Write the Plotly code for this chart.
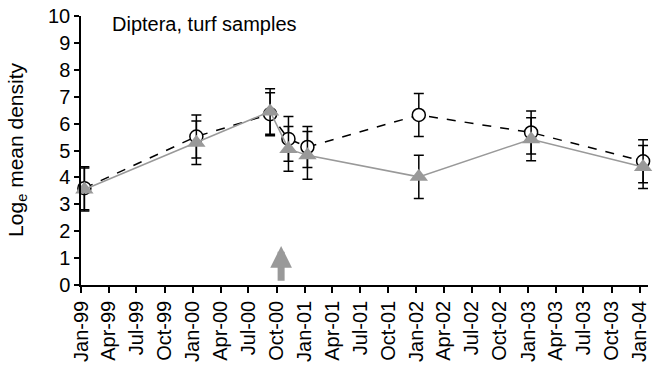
import plotly.graph_objects as go

dates = ["1999-01-12", "2000-01-13", "2000-09-10", "2000-11-09",
         "2001-01-10", "2002-01-09", "2003-01-11", "2004-01-12"]
open_vals = [3.60, 5.52, 6.35, 5.43, 5.13, 6.32, 5.67, 4.60]
open_err = [0.80, 0.80, 0.80, 0.83, 0.76, 0.80, 0.80, 0.80]
tri_vals = [3.55, 5.29, 6.45, 5.06, 4.82, 4.02, 5.42, 4.39]
tri_err = [0.80, 0.81, 0.85, 0.83, 0.89, 0.80, 0.80, 0.80]

arrow_date = "2000-10-16"
arrow_tip = 1.45
arrow_tail = 0.1

title_text = "Diptera, turf samples"
y_title = "Log<sub>e</sub> mean density"

FONT = "Liberation Sans, Arial, sans-serif"

fig = go.Figure()

fig.add_trace(go.Scatter(
    x=dates, y=open_vals, mode="lines+markers",
    line=dict(color="black", width=1.5, dash="dash"),
    marker=dict(symbol="circle", size=13, color="white",
                line=dict(color="black", width=1.5)),
    error_y=dict(type="data", array=open_err, visible=True,
                 color="black", thickness=1.5, width=5),
    cliponaxis=False, showlegend=False,
))

fig.add_trace(go.Scatter(
    x=dates, y=tri_vals, mode="lines+markers",
    line=dict(color="#999999", width=1.5),
    marker=dict(symbol="triangle-up", size=16, color="#999999",
                line=dict(width=0)),
    error_y=dict(type="data", array=tri_err, visible=True,
                 color="black", thickness=1.5, width=5),
    cliponaxis=False, showlegend=False,
))

fig.add_annotation(
    x=arrow_date, y=arrow_tip, ax=arrow_date, ay=arrow_tail,
    xref="x", yref="y", axref="x", ayref="y",
    showarrow=True, arrowhead=2, arrowwidth=7, arrowsize=0.62,
    arrowcolor="#999999", text="",
)

fig.add_annotation(
    x=0.051, y=0.972, xref="paper", yref="paper",
    xanchor="left", yanchor="middle", showarrow=False,
    text=title_text, font=dict(family=FONT, size=20, color="black"),
)

fig.add_annotation(
    x=-0.112, y=0.504, xref="paper", yref="paper",
    xanchor="center", yanchor="middle", showarrow=False, textangle=-90,
    text=y_title, font=dict(family=FONT, size=21, color="black"),
)

fig.update_layout(
    width=655, height=371,
    margin=dict(l=81, r=5, t=13, b=86),
    paper_bgcolor="white", plot_bgcolor="white",
    font=dict(family=FONT, color="black"),
)

fig.update_xaxes(
    type="date", range=["1999-01-01", "2004-01-28"],
    tick0="1999-01-01", dtick="M3", tickformat="%b-%y",
    tickangle=-90, ticks="outside", ticklen=6, tickwidth=1.5,
    tickcolor="black", showline=True, linecolor="black", linewidth=1.5,
    showgrid=False, zeroline=False,
    tickfont=dict(family=FONT, size=20, color="black"),
)

fig.update_yaxes(
    range=[0, 10], dtick=1, ticks="outside", ticklen=5, tickwidth=1.5,
    tickcolor="black", showline=True, linecolor="black", linewidth=1.5,
    showgrid=False, zeroline=False,
    tickfont=dict(family=FONT, size=20, color="black"),
)

fig.write_html("out.html")
